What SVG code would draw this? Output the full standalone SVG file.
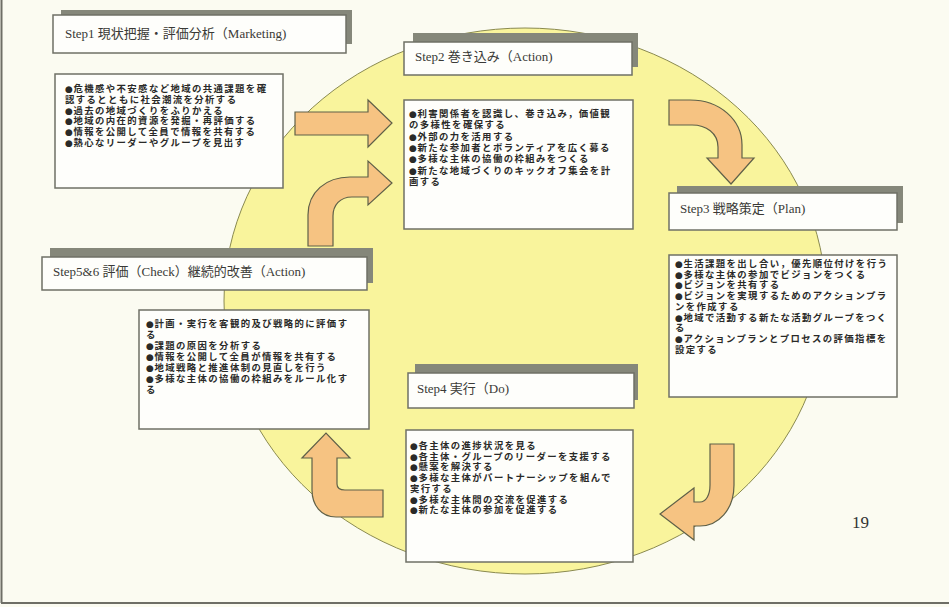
<svg xmlns="http://www.w3.org/2000/svg" width="949" height="607" viewBox="0 0 949 607">
<style>
.bg{fill:#fbfbf1}
.frame{stroke:#6e6e66;stroke-width:2;fill:none}
.ell{fill:#f9f49c;stroke:#8a8a50;stroke-width:1}
.shadow{fill:#85877a}
.box{fill:#fefefb;stroke:#6f7066;stroke-width:1.5}
.hd{font-family:"Liberation Serif","Noto Sans CJK JP",serif;font-size:13px;fill:#3a3a36}
.bd{font-family:"Liberation Sans","Noto Sans CJK JP",sans-serif;font-size:9.4px;font-weight:bold;fill:#2a2a28;letter-spacing:1.4px}
.b{font-family:"DejaVu Sans",sans-serif;font-size:9px;letter-spacing:0.6px}
.arr{fill:#f6c382;stroke:#5f6048;stroke-width:1.2;stroke-linejoin:miter}
.pg{font-family:"Liberation Serif",serif;font-size:17px;fill:#333}
</style>
<rect class="bg" x="0" y="0" width="949" height="607"/>
<line class="frame" x1="1.5" y1="0" x2="1.5" y2="603"/>
<line class="frame" x1="1" y1="603" x2="949" y2="603"/>
<ellipse class="ell" cx="525" cy="301" rx="301" ry="273"/>

<g id="connectors">
<path class="arr" d="M295,112 L368,112 L368,100 L392,123 L368,147 L368,135 L295,135 Z"/>
<path class="arr" d="M308,246 L308,215 C308,192 326,177 350,177 L368,177 L368,161 L392,183 L368,205 L368,197 L352,197 C340,197 333,205 333,216 L333,246 Z"/>
<path class="arr" d="M669,100 L690,100 C720,100 742,120 742,145 L742,158 L754,158 L731,184 L707,158 L718,158 L718,147 C718,133 706,125 692,125 L669,125 Z"/>
<path class="arr" d="M710,444 L734,444 L734,485 C734,510 718,526 700,526 L694,526 L694,540 L660,514 L694,488 L694,502 L700,502 C706,502 710,495 710,485 Z"/>
<path class="arr" d="M383,490 L383,517 L336,517 C321,517 312,505 312,490 L312,458 L302,458 L326,433 L350,458 L337,458 L337,484 C337,488 340,490 345,490 Z"/>
</g>

<g id="step1">
<rect class="shadow" x="61" y="10" width="291" height="34"/>
<rect class="box" x="53" y="15" width="293" height="38"/>
<text class="hd" x="65" y="38">Step1 現状把握・評価分析（Marketing)</text>
</g>
<g id="step1-body">
<rect class="box" x="55" y="74" width="228" height="114"/>
<text class="bd" x="65" y="92"><tspan x="65"><tspan class="b">●</tspan>危機感や不安感など地域の共通課題を確</tspan><tspan x="65" dy="10.8">認するとともに社会潮流を分析する</tspan><tspan x="65" dy="10.8"><tspan class="b">●</tspan>過去の地域づくりをふりかえる</tspan><tspan x="65" dy="10.8"><tspan class="b">●</tspan>地域の内在的資源を発掘・再評価する</tspan><tspan x="65" dy="10.8"><tspan class="b">●</tspan>情報を公開して全員で情報を共有する</tspan><tspan x="65" dy="10.8"><tspan class="b">●</tspan>熱心なリーダーやグループを見出す</tspan></text>
</g>

<g id="step2">
<rect class="shadow" x="413" y="33" width="225" height="34"/>
<rect class="box" x="404" y="42" width="228" height="33"/>
<text class="hd" x="415" y="61">Step2 巻き込み（Action)</text>
</g>
<g id="step2-body">
<rect class="box" x="404" y="100" width="229" height="129"/>
<text class="bd" x="409" y="117"><tspan x="409"><tspan class="b">●</tspan>利害関係者を認識し、巻き込み，価値観</tspan><tspan x="409" dy="11.3">の多様性を確保する</tspan><tspan x="409" dy="11.3"><tspan class="b">●</tspan>外部の力を活用する</tspan><tspan x="409" dy="11.3"><tspan class="b">●</tspan>新たな参加者とボランティアを広く募る</tspan><tspan x="409" dy="11.3"><tspan class="b">●</tspan>多様な主体の協働の枠組みをつくる</tspan><tspan x="409" dy="11.3"><tspan class="b">●</tspan>新たな地域づくりのキックオフ集会を計</tspan><tspan x="409" dy="11.3">画する</tspan></text>
</g>

<g id="step3">
<rect class="shadow" x="677" y="186" width="226" height="37"/>
<rect class="box" x="669" y="193" width="228" height="37"/>
<text class="hd" x="680" y="213">Step3 戦略策定（Plan)</text>
</g>
<g id="step3-body">
<rect class="box" x="669" y="255" width="228" height="142"/>
<text class="bd" x="675" y="267"><tspan x="675"><tspan class="b">●</tspan>生活課題を出し合い，優先順位付けを行う</tspan><tspan x="675" dy="10.7"><tspan class="b">●</tspan>多様な主体の参加でビジョンをつくる</tspan><tspan x="675" dy="10.7"><tspan class="b">●</tspan>ビジョンを共有する</tspan><tspan x="675" dy="10.7"><tspan class="b">●</tspan>ビジョンを実現するためのアクションプラ</tspan><tspan x="675" dy="10.7">ンを作成する</tspan><tspan x="675" dy="10.7"><tspan class="b">●</tspan>地域で活動する新たな活動グループをつく</tspan><tspan x="675" dy="10.7">る</tspan><tspan x="675" dy="10.7"><tspan class="b">●</tspan>アクションプランとプロセスの評価指標を</tspan><tspan x="675" dy="10.7">設定する</tspan></text>
</g>

<g id="step4">
<rect class="shadow" x="415" y="364" width="223" height="36"/>
<rect class="box" x="408" y="373" width="226" height="35"/>
<text class="hd" x="417" y="393">Step4 実行（Do)</text>
</g>
<g id="step4-body">
<rect class="box" x="406" y="430" width="227" height="132"/>
<text class="bd" x="410" y="449"><tspan x="410"><tspan class="b">●</tspan>各主体の進捗状況を見る</tspan><tspan x="410" dy="10.7"><tspan class="b">●</tspan>各主体・グループのリーダーを支援する</tspan><tspan x="410" dy="10.7"><tspan class="b">●</tspan>懸案を解決する</tspan><tspan x="410" dy="10.7"><tspan class="b">●</tspan>多様な主体がパートナーシップを組んで</tspan><tspan x="410" dy="10.7">実行する</tspan><tspan x="410" dy="10.7"><tspan class="b">●</tspan>多様な主体間の交流を促進する</tspan><tspan x="410" dy="10.7"><tspan class="b">●</tspan>新たな主体の参加を促進する</tspan></text>
</g>

<g id="step56">
<rect class="shadow" x="50" y="248" width="323" height="35"/>
<rect class="box" x="42" y="257" width="325" height="33"/>
<text class="hd" x="53" y="276">Step5&amp;6 評価（Check）継続的改善（Action)</text>
</g>
<g id="step56-body">
<rect class="box" x="139" y="310" width="230" height="119"/>
<text class="bd" x="146" y="327"><tspan x="146"><tspan class="b">●</tspan>計画・実行を客観的及び戦略的に評価す</tspan><tspan x="146" dy="11">る</tspan><tspan x="146" dy="11"><tspan class="b">●</tspan>課題の原因を分析する</tspan><tspan x="146" dy="11"><tspan class="b">●</tspan>情報を公開して全員が情報を共有する</tspan><tspan x="146" dy="11"><tspan class="b">●</tspan>地域戦略と推進体制の見直しを行う</tspan><tspan x="146" dy="11"><tspan class="b">●</tspan>多様な主体の協働の枠組みをルール化す</tspan><tspan x="146" dy="11">る</tspan></text>
</g>

<text class="pg" x="852" y="528">19</text>
</svg>
